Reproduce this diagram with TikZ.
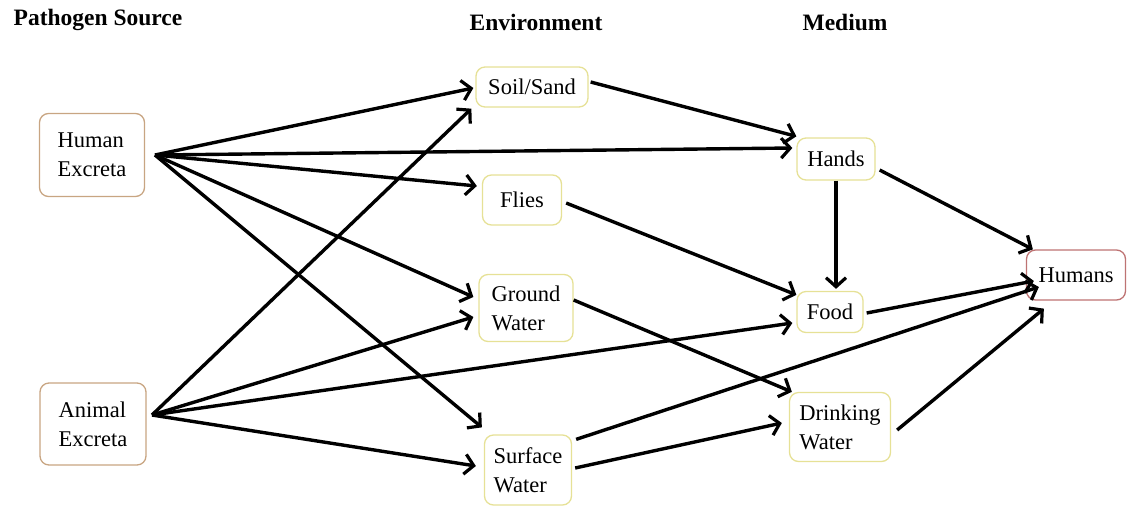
\documentclass[tikz,border=0pt]{standalone}
\usepackage{fontspec}
\setmainfont{Liberation Serif}
\usetikzlibrary{arrows.meta,calc}
\definecolor{srcbrd}{RGB}{200,165,130}
\definecolor{envbrd}{RGB}{230,225,150}
\definecolor{humbrd}{RGB}{190,115,115}
\begin{document}
\begin{tikzpicture}[x=1pt,y=-1pt,
  box/.style={draw=envbrd,line width=1.3pt,rounded corners=9pt,fill=white,
    inner sep=0pt,align=left,font=\fontsize{22.5}{29}\selectfont},
  srcbox/.style={box,draw=srcbrd},
  humbox/.style={box,draw=humbrd},
  head/.style={font=\fontsize{23.5}{27}\selectfont\bfseries},
  arr/.style={line width=3.4pt,-{Straight Barb[length=9pt,width=20pt,line width=3.2pt]}}]
\useasboundingbox (0,0) rectangle (1127,507);
% headings
\node[head] (h1) at (98,20) {Pathogen Source};
\node[head] (h2) at (536,22) {Environment};
\node[head] (h3) at (845,22) {Medium};
% boxes
\node[srcbox,minimum width=105pt,minimum height=83pt] (he) at (92,155) {Human\\Excreta};
\node[srcbox,minimum width=106pt,minimum height=82pt] (ae) at (93,424) {Animal\\Excreta};
\node[box,minimum width=112pt,minimum height=40pt] (soil) at (532,87) {Soil/Sand};
\node[box,minimum width=79pt,minimum height=50pt] (flies) at (522,200) {Flies};
\node[box,minimum width=94pt,minimum height=67pt] (gw) at (526,308) {Ground\\Water};
\node[box,minimum width=87pt,minimum height=70pt] (sw) at (528,470) {Surface\\Water};
\node[box,minimum width=78pt,minimum height=42pt] (hands) at (836,159) {Hands};
\node[box,minimum width=66pt,minimum height=41pt] (food) at (830,312) {Food};
\node[box,minimum width=101pt,minimum height=69pt] (dw) at (840,427) {Drinking\\Water};
\node[humbox,minimum width=99pt,minimum height=50pt] (hum) at (1076,275) {Humans};
% source points
\coordinate (heo) at (155,155);
\coordinate (aeo) at (152,415);
% arrows from Human Excreta
\draw[arr] (heo) -- ($(soil.west)+(-2,1)$);
\draw[arr] (heo) -- ($(hands.west)+(-4,-11)$);
\draw[arr] (heo) -- ($(flies.west)+(-5,-14)$);
\draw[arr] (heo) -- ($(gw.west)+(-5,-11)$);
\draw[arr] (heo) -- ($(sw.north west)+(-2,-7)$);
% arrows from Animal Excreta
\draw[arr] (aeo) -- ($(soil.south west)+(-4,1)$);
\draw[arr] (aeo) -- ($(gw.west)+(-5,9)$);
\draw[arr] (aeo) -- ($(food.west)+(-4,11)$);
\draw[arr] (aeo) -- ($(sw.west)+(-8,-4)$);
% environment to medium
\draw[arr] ($(soil.east)+(2,-5)$) -- ($(hands.north west)+(0,-1)$);
\draw[arr] ($(flies.east)+(4,3)$) -- ($(food.north west)+(0,4)$);
\draw[arr] ($(gw.east)+(0,-8)$) -- ($(dw.north west)+(3,0)$);
\draw[arr] ($(sw.east)+(3,-2)$) -- ($(dw.west)+(-7,-4)$);
\draw[arr] (hands.south) -- ($(food.north)+(6,-2)$);
% medium to humans
\draw[arr] ($(hands.east)+(4,11)$) -- ($(hum.north west)+(7,0)$);
\draw[arr] ($(food.east)+(3,1)$) -- ($(hum.west)+(8,6)$);
\draw[arr] ($(sw.north east)+(4,5)$) -- ($(hum.west)+(13,12)$);
\draw[arr] ($(dw.east)+(6,3)$) -- ($(hum.south west)+(18,8)$);
\end{tikzpicture}
\end{document}
